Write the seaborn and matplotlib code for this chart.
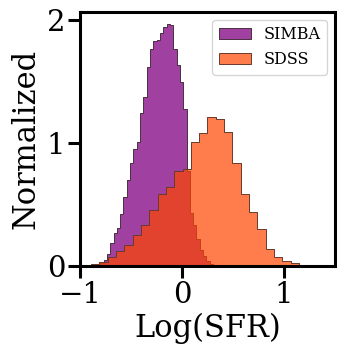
import numpy as np
import pandas as pd
import matplotlib
matplotlib.use("Agg")
import matplotlib.pyplot as plt
import seaborn as sns

# ---- data (normalized histogram densities) ----
simba_left = -0.80
simba_width = 0.0325
simba_heights = [0.02, 0.05, 0.10, 0.19, 0.27, 0.31, 0.42, 0.56, 0.70, 0.84,
                 0.95, 1.01, 1.25, 1.38, 1.62, 1.77, 1.83, 1.84, 1.90, 1.95,
                 1.97, 1.96, 1.77, 1.64, 1.50, 1.28, 0.77, 0.43, 0.33, 0.22,
                 0.13, 0.08, 0.04, 0.015]

sdss_left = -0.89
sdss_right = 1.146
sdss_heights = [0.016, 0.035, 0.076, 0.12, 0.17, 0.25, 0.33, 0.455, 0.59, 0.645,
                0.77, 0.79, 1.01, 1.08, 1.21, 1.20, 1.09, 0.835, 0.59, 0.44,
                0.30, 0.14, 0.076, 0.043, 0.028]

labels = ["SIMBA", "SDSS"]
xticks = [-1, 0, 1]
yticks = [0, 1, 2]

simba_edges = simba_left + simba_width * np.arange(len(simba_heights) + 1)
sdss_edges = np.linspace(sdss_left, sdss_right, len(sdss_heights) + 1)

df_simba = pd.DataFrame({"x": 0.5 * (simba_edges[:-1] + simba_edges[1:]),
                         "w": simba_heights})
df_sdss = pd.DataFrame({"x": 0.5 * (sdss_edges[:-1] + sdss_edges[1:]),
                        "w": sdss_heights})

sns.set_style("ticks", {"axes.edgecolor": "black", "text.color": "black",
                        "axes.labelcolor": "black", "xtick.color": "black",
                        "ytick.color": "black"})
plt.rcParams["font.family"] = ["DejaVu Serif"]
plt.rcParams["mathtext.fontset"] = "dejavuserif"

fig = plt.figure(figsize=(3.37, 3.49), dpi=100)
ax = fig.add_axes([0.237, 0.238, 0.757, 0.728])

sns.histplot(data=df_simba, x="x", weights="w", bins=list(simba_edges),
             element="step", fill=True, color="purple", alpha=0.75,
             edgecolor="#4a3040", linewidth=0.7, label=labels[0], ax=ax)
sns.histplot(data=df_sdss, x="x", weights="w", bins=list(sdss_edges),
             element="step", fill=True, color="orangered", alpha=0.7,
             edgecolor="#6a3a2a", linewidth=0.7, label=labels[1], ax=ax)

ax.set_xlim(-1.0, 1.5)
ax.set_ylim(0, 2.07)
ax.set_xticks(xticks)
ax.set_yticks(yticks)
ax.set_xlabel("Log(SFR)", fontsize=22, labelpad=3)
ax.set_ylabel("Normalized", fontsize=22, labelpad=4)
ax.tick_params(axis="both", labelsize=21, length=8.5, width=2.2, pad=2,
               colors="black")
for sp in ax.spines.values():
    sp.set_linewidth(2.2)
    sp.set_color("black")

ax.legend(loc="upper right", fontsize=11.5, frameon=True)

fig.savefig("out.png", dpi=100)
